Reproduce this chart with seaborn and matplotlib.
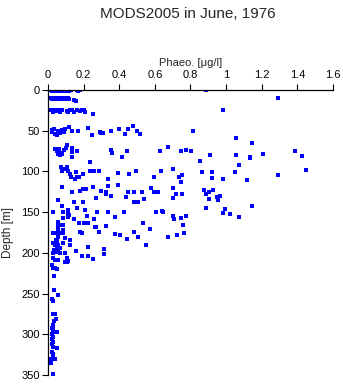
import numpy as np
import pandas as pd
import matplotlib
matplotlib.use("Agg")
import matplotlib.pyplot as plt
import seaborn as sns

# Phaeopigment profiles, MODS2005 cruise, June 1976
# Upper layer (0-30 m)
upper_phaeo = [0.01, 0.02, 0.03, 0.04, 0.05, 0.06, 0.07, 0.08, 0.09, 0.10, 0.11, 0.12, 0.13, 0.16, 0.17, 0.18, 0.885,
               0.01, 0.02, 0.03, 0.04, 0.05, 0.06, 0.07, 0.08, 0.09, 0.10, 0.11, 0.12, 0.145, 0.155, 1.29,
               0.01, 0.02, 0.03, 0.04, 0.05, 0.06, 0.07, 0.08, 0.105, 0.115, 0.125, 0.135, 0.145, 0.16, 0.18, 0.19, 0.20, 0.21, 0.255, 0.985]
upper_depth = [0, 1, 0, 1, 0, 1, 0, 1, 0, 1, 0, 1, 0, 0, 1, 0, 0,
               10, 11, 10, 11, 10, 11, 10, 11, 10, 11, 10, 11, 12, 13, 10,
               25, 24, 27, 25, 26, 24, 27, 25, 26, 27, 25, 24, 27, 25, 26, 24, 25, 27, 30, 24]

# 40-92 m
mid_phaeo = [0.02, 0.025, 0.035, 0.04, 0.05, 0.055, 0.06, 0.07, 0.08, 0.09, 0.096, 0.118, 0.137, 0.167, 0.227, 0.249, 0.29, 0.30, 0.31, 0.354,
             0.40, 0.434, 0.448, 0.476, 0.498, 0.517, 0.816, 1.056, 1.146,
             0.04, 0.05, 0.055, 0.06, 0.065, 0.07, 0.08, 0.09, 0.10, 0.109, 0.137, 0.137, 0.137, 0.165, 0.236, 0.354, 0.358, 0.418, 0.444, 0.63,
             0.676, 0.747, 0.775, 0.805, 0.856, 0.91, 1.056, 1.075, 1.135, 1.135, 1.206, 1.384, 1.425]
mid_depth = [49, 52, 48, 54, 55, 50, 52, 53, 49, 51, 48, 45, 50, 50, 47, 55, 51, 53, 53, 50,
             48, 54, 48, 44, 50, 54, 50, 59, 65,
             72, 75, 78, 73, 80, 77, 79, 74, 71, 67.6, 71.6, 76.5, 82, 75, 88.9, 73.7, 77, 82.7, 75, 74.5,
             70, 75, 74, 75, 87.6, 80, 80, 92.5, 82, 84, 78.6, 74.5, 81.5]

# 95-140 m
max_phaeo = [0.073, 0.077, 0.105, 0.114, 0.096, 0.124, 0.127, 0.157, 0.152, 0.161, 0.176, 0.198, 0.236, 0.258, 0.288, 0.339, 0.395,
             0.457, 0.494, 0.597, 0.637, 0.70, 0.755, 0.738, 0.867, 0.918, 0.918, 1.052, 0.985, 1.116, 1.446, 1.294, 0.747,
             0.077, 0.137, 0.18, 0.195, 0.213, 0.251, 0.298, 0.268, 0.326, 0.326, 0.339, 0.354, 0.395, 0.438, 0.448, 0.485, 0.485,
             0.507, 0.53, 0.539, 0.577, 0.597, 0.618, 0.699, 0.699, 0.717, 0.755, 0.878, 0.906, 0.927, 0.888, 0.906, 0.946, 0.957,
             0.968, 0.058, 0.148, 0.198]
max_depth = [95, 99, 95, 99, 97.5, 103.6, 106.5, 101, 109.3, 106.5, 106.5, 103.6, 99, 99, 100, 109.3, 101.6,
             103.6, 100, 106.5, 100, 97, 104, 107, 100.7, 100.7, 107.7, 100.7, 109.7, 110.6, 98.7, 104.8, 113.4,
             118.7, 124.8, 124, 122, 122, 119.5, 124, 133, 127.8, 124.8, 118, 130.2, 116.7, 131, 125.6, 125.6, 137.2,
             137.2, 125.6, 133.9, 120.8, 125.7, 125.7, 120.8, 132.7, 128, 128, 123, 125.7, 123, 128, 134, 131.8, 135.5,
             129.7, 135, 138, 138]

# 140-220 m
lower_phaeo = [0.077, 0.111, 0.111, 0.12, 0.086, 0.083, 0.026, 0.146, 0.165, 0.176, 0.202, 0.223, 0.208, 0.217, 0.258, 0.264,
               0.277, 0.326, 0.339, 0.376, 0.429, 0.535, 0.573, 0.607, 0.639, 0.648, 0.70, 0.708, 0.747, 0.757, 0.775,
               1.148, 0.888, 0.996, 0.985, 1.024, 1.075,
               0.124, 0.124, 0.114, 0.105, 0.157, 0.18, 0.189, 0.189, 0.227, 0.227, 0.251, 0.27, 0.288, 0.316, 0.316,
               0.376, 0.404, 0.446, 0.485, 0.507, 0.549, 0.676, 0.727, 0.766,
               0.058, 0.058, 0.058, 0.058, 0.058, 0.067, 0.049, 0.039, 0.03, 0.077, 0.086, 0.086, 0.083, 0.096, 0.086,
               0.03, 0.049, 0.049, 0.058, 0.03, 0.049, 0.067, 0.096, 0.058, 0.039, 0.021, 0.039, 0.03, 0.049, 0.114,
               0.105, 0.096, 0.03, 0.058, 0.067, 0.045, 0.04, 0.035]
lower_depth = [142, 147.4, 150.6, 153.6, 156.9, 150, 150, 158.8, 144.4, 163, 163, 163, 147.4, 154.8, 158.8, 168.7,
               150, 167, 150, 155.6, 150, 163.8, 170.8, 150, 148, 149.6, 154.8, 158.8, 157.7, 165.8, 154.8,
               143, 145, 146.5, 151.5, 152.7, 156,
               184, 190.4, 210, 210.8, 197.4, 174.9, 176, 204, 192.5, 204, 208, 167.8, 174, 195.7, 201.8,
               177, 178, 183.5, 174.9, 180, 190.4, 181, 178, 176,
               162, 166, 170, 174, 180, 176, 176, 176, 176, 166, 165.8, 176, 172, 182.2, 188.3,
               188.3, 186, 192, 196, 200.6, 199, 200.6, 200.6, 208.8, 208.8, 215, 219, 219, 220.3, 155.6,
               206, 211, 206.8, 190, 194, 184, 190, 196]

# 220-350 m
deep_phaeo = [0.036, 0.036, 0.058, 0.021, 0.03, 0.03, 0.039, 0.045, 0.036, 0.026, 0.021, 0.03, 0.026, 0.039, 0.049,
              0.021, 0.03, 0.021, 0.03, 0.021, 0.03, 0.049, 0.021, 0.026, 0.011, 0.021, 0.03, 0.039, 0.017, 0.026,
              0.026, 0.004]
deep_depth = [228.5, 245.7, 251.8, 257, 258.8, 275.5, 275.5, 281.6, 283.3, 288.7, 291.9, 290, 294.8, 297.6, 297.6,
              300, 303, 306, 309, 312, 315.3, 317.3, 321.4, 324.7, 330.5, 330.5, 330.5, 330.5, 335.8, 349,
              327, 330.5]

x_ticks = [0, 0.2, 0.4, 0.6, 0.8, 1.0, 1.2, 1.4, 1.6]
x_ticklabels = ["0", "0.2", "0.4", "0.6", "0.8", "1", "1.2", "1.4", "1.6"]
y_ticks = [0, 50, 100, 150, 200, 250, 300, 350]

df = pd.DataFrame({
    "phaeo": upper_phaeo + mid_phaeo + max_phaeo + lower_phaeo + deep_phaeo,
    "depth": upper_depth + mid_depth + max_depth + lower_depth + deep_depth,
})

sns.set_style("white")
plt.rcParams["font.family"] = ["Liberation Sans", "DejaVu Sans"]

fig = plt.figure(figsize=(3.43, 3.84), dpi=100)
ax = fig.add_axes([48 / 343, 9 / 384, 285 / 343, 285 / 384])

sns.scatterplot(data=df, x="phaeo", y="depth", ax=ax, marker="s", s=5,
                color="#0000ff", linewidth=0, legend=False)

ax.set_xlim(0, 1.6)
ax.set_ylim(350, 0)

ax.xaxis.tick_top()
ax.xaxis.set_label_position("top")
ax.set_xticks(x_ticks)
ax.set_xticklabels(x_ticklabels)
ax.set_yticks(y_ticks)
ax.tick_params(axis="both", direction="out", length=4, width=0.8, colors="black",
               labelsize=8, pad=2)
ax.tick_params(axis="x", top=True, bottom=False, pad=3)
ax.tick_params(axis="y", left=True, right=False)

for side in ["right", "bottom"]:
    ax.spines[side].set_visible(False)
for side in ["top", "left"]:
    ax.spines[side].set_visible(True)
    ax.spines[side].set_color("black")
    ax.spines[side].set_linewidth(0.9)

ax.set_xlabel("Phaeo. [\u03bcg/l]", fontsize=8, labelpad=3)
ax.set_ylabel("Depth [m]", fontsize=8.5, labelpad=5)

fig.text(0.548, 1 - 14 / 384, "MODS2005 in June, 1976", ha="center", va="center", fontsize=11)

fig.savefig("out.png", dpi=100)
